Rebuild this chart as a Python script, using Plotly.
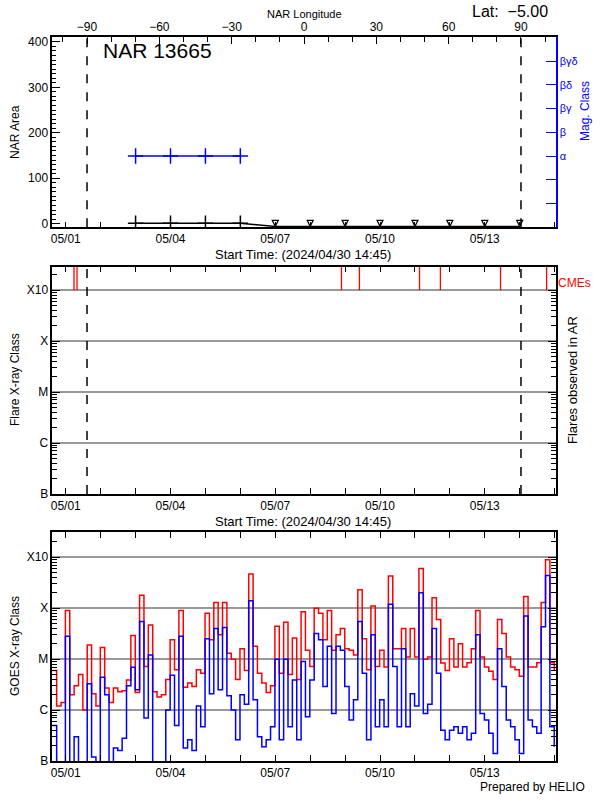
import plotly.graph_objects as go
import pandas as pd

# ---------------- data ----------------
START = "2024-04-30 14:45"
END = "2024-05-15 00:45"

date_ticks = ["2024-05-01", "2024-05-04", "2024-05-07", "2024-05-10", "2024-05-13"]
date_labels = ["05/01", "05/04", "05/07", "05/10", "05/13"]

# NAR 13665 observations
nar_times = ["2024-05-03 00:00", "2024-05-04 00:00", "2024-05-05 00:00", "2024-05-06 00:00"]
nar_area = [1, 1, 1, 1]
nar_mag = ["α", "α", "α", "α"]
# days with no NAR report (drawn with arrows)
missing_times = ["2024-05-07", "2024-05-08", "2024-05-09", "2024-05-10",
                 "2024-05-11", "2024-05-12", "2024-05-13", "2024-05-14"]
missing_area = [-6, -6, -6, -6, -6, -6, -6, -6]

mag_tick_labels = ["", "", "α", "β", "βγ", "βδ", "βγδ"]
lon_ticks = [-90, -60, -30, 0, 30, 60, 90]
limb_lons = [-90, 90]

cme_times = ["2024-05-01 05:40", "2024-05-01 07:45", "2024-05-08 21:30", "2024-05-09 09:50",
             "2024-05-11 03:10", "2024-05-11 17:30", "2024-05-13 10:50", "2024-05-14 18:30"]

class_ticks = [1e-7, 1e-6, 1e-5, 1e-4, 1e-3]
class_labels = ["B", "C", "M", "X", "X10"]

# GOES X-ray flux (W/m^2), 3-hour samples from START
goes_long = [
    6e-6, 1.2e-6, 1.4e-6, 9e-5, 2.0e-6, 3e-6, 5e-6, 1.0e-6, 1.9e-5, 2.1e-6,
    1.2e-6, 1.7e-5, 2.7e-6, 1.4e-6, 2.7e-6, 2.3e-6, 2.4e-6, 3.9e-6, 2.9e-5, 2.2e-6,
    1.8e-4, 7.2e-6, 4.7e-5, 2.3e-6, 1.8e-6, 2.0e-6, 4e-6, 2.4e-5, 6.2e-6, 9e-5,
    2.8e-6, 3.4e-6, 2.9e-6, 6.2e-6, 5.3e-6, 8e-5, 2.4e-5, 1.3e-4, 3e-5, 1.3e-4,
    1.3e-5, 1.0e-5, 4e-6, 1.6e-5, 6e-6, 4.7e-4, 1.8e-5, 5.3e-6, 3.4e-6, 2.2e-6,
    3e-6, 4.4e-5, 5.3e-6, 5.3e-5, 5e-6, 2.6e-5, 4e-6, 8.5e-5, 1.5e-5, 7.2e-6,
    1.0e-4, 8e-5, 2.4e-5, 9e-5, 1.5e-5, 3e-5, 4e-5, 1.6e-5, 1.5e-5, 1.2e-5,
    2.3e-4, 2.5e-5, 6.2e-6, 1.1e-4, 7.2e-6, 1.5e-5, 7e-6, 4.3e-4, 1.6e-5, 1.6e-5,
    4e-5, 1.1e-5, 4e-5, 1.1e-5, 6e-4, 1e-5, 1.1e-5, 1.6e-4, 6e-5, 8.4e-6,
    6e-6, 2.5e-5, 7e-6, 2e-5, 7e-6, 8.5e-6, 1.6e-5, 9e-5, 1.1e-5, 7e-6,
    5.8e-6, 4e-6, 6e-5, 3.2e-5, 1.1e-5, 7e-6, 6.2e-6, 4.6e-6, 1.7e-4, 7e-6,
    7e-6, 8.5e-6, 1.3e-4, 8.9e-4, 8.5e-6, 6e-6,
]
goes_short = [
    5e-7, 5e-8, 5e-8, 2.8e-5, 5e-8, 3e-7, 5e-8, 5e-8, 3.3e-6, 1.2e-7,
    5e-8, 4.4e-6, 2e-6, 5e-8, 1.8e-7, 1.6e-7, 2.8e-7, 3e-6, 6.9e-6, 2.5e-6,
    5.5e-5, 7e-7, 1.2e-5, 5e-8, 5e-8, 5e-8, 1e-6, 4.8e-6, 5e-7, 2.8e-5,
    1.8e-7, 2.6e-7, 1.6e-7, 1.2e-6, 4.7e-7, 2.5e-5, 2.1e-6, 4e-5, 2.5e-6, 4.2e-5,
    1.9e-6, 1.0e-6, 2.6e-7, 2e-6, 1.3e-6, 1.4e-4, 1.6e-6, 3e-7, 1.9e-7, 2.6e-7,
    4.7e-7, 1e-5, 2.6e-7, 1e-5, 4.7e-7, 3.9e-6, 2.6e-7, 9e-6, 7.4e-7, 3.9e-6,
    3.2e-5, 2.4e-5, 2.9e-6, 1.8e-5, 8.6e-7, 1.8e-5, 1.5e-5, 2.9e-6, 6.4e-7, 1.6e-6,
    5.5e-5, 5.3e-6, 2.6e-7, 3e-5, 4.7e-7, 1.6e-6, 4.7e-7, 1.2e-4, 7.2e-6, 4.7e-7,
    1.6e-5, 4.7e-7, 2.1e-6, 1.2e-6, 2e-4, 8.6e-7, 1.3e-6, 4e-5, 5.3e-6, 4e-7,
    2.6e-7, 4e-7, 4.7e-7, 3.5e-7, 4.7e-7, 2.6e-7, 3.5e-7, 3e-5, 8.6e-7, 6.4e-7,
    3.5e-7, 1.4e-7, 1.6e-5, 2.9e-6, 6.4e-7, 4.7e-7, 2.6e-7, 1.4e-7, 7e-5, 6.4e-7,
    4.7e-7, 3.5e-7, 4.3e-5, 4.4e-4, 4.7e-7, 1.9e-7,
]
goes_times = pd.date_range(START, periods=len(goes_long), freq="3h")

# ---------------- layout constants ----------------
W, H = 600, 800
XDOM = [52.3 / W, 555.7 / W]
Y1 = [1 - 227.3 / H, 1 - 37.3 / H]
Y2 = [1 - 494.0 / H, 1 - 266.7 / H]
Y3 = [1 - 761.0 / H, 1 - 532.3 / H]
LON_RANGE = [-104.4, 104.4]
AREA_RANGE = [-8, 410]
MAG_RANGE = [0, 8]
FLARE_RANGE = [-7, -2.54]
GOES_RANGE = [-7, -2.51]
FONT = "Liberation Sans, Arial, sans-serif"
RED, BLUE = "#ff0000", "#0000ff"

fig = go.Figure()

# ---- panel 1 ----
fig.add_trace(go.Scatter(x=nar_times + missing_times, y=nar_area + missing_area, mode="lines",
                         line=dict(color="black", width=1.5), xaxis="x", yaxis="y", hoverinfo="skip"))
fig.add_trace(go.Scatter(x=nar_times, y=nar_area, mode="markers", xaxis="x", yaxis="y",
                         marker=dict(symbol="cross-thin", size=11, color="black",
                                     line=dict(color="black", width=1.5))))
fig.add_trace(go.Scatter(x=missing_times, y=missing_area, mode="markers", xaxis="x", yaxis="y",
                         marker=dict(symbol="arrow-down-open", size=6, color="black",
                                     line=dict(color="black", width=1.2))))
mag_level = {lab: i for i, lab in enumerate(mag_tick_labels, start=1) if lab}
fig.add_trace(go.Scatter(x=nar_times, y=[mag_level[m] for m in nar_mag], mode="lines+markers",
                         xaxis="x", yaxis="y2", line=dict(color=BLUE, width=1.5),
                         marker=dict(symbol="cross-thin", size=11, color=BLUE,
                                     line=dict(color=BLUE, width=1.5))))
# longitude axis carrier
fig.add_trace(go.Scatter(x=limb_lons, y=[100, 100], mode="markers", xaxis="x2", yaxis="y",
                         marker=dict(opacity=0), hoverinfo="skip"))

# ---- panel 2 ----
cx, cy = [], []
for t in cme_times:
    cx += [t, t, None]
    cy += [class_ticks[-1], 10 ** FLARE_RANGE[1], None]
fig.add_trace(go.Scatter(x=cx, y=cy, mode="lines", line=dict(color=RED, width=1.3),
                         xaxis="x3", yaxis="y3", hoverinfo="skip"))
fig.add_trace(go.Scatter(x=limb_lons, y=[1e-6, 1e-6], mode="markers", xaxis="x4", yaxis="y3",
                         marker=dict(opacity=0), hoverinfo="skip"))

# ---- panel 3 ----
fig.add_trace(go.Scatter(x=goes_times, y=goes_long, mode="lines", line=dict(color=RED, width=1.5, shape="hv"),
                         xaxis="x5", yaxis="y4"))
fig.add_trace(go.Scatter(x=goes_times, y=goes_short, mode="lines", line=dict(color=BLUE, width=1.5, shape="hv"),
                         xaxis="x5", yaxis="y4"))

common = dict(showline=True, linecolor="black", linewidth=1.5, ticks="inside", tickcolor="black",
              tickwidth=1, showgrid=False, zeroline=False, automargin=False,
              tickfont=dict(size=12, color="black", family=FONT))


def date_axis(anchor, mirror):
    d = dict(domain=XDOM, anchor=anchor, type="date", range=[START, END], tickmode="array",
             tickvals=date_ticks, ticktext=date_labels, ticklen=6, mirror=mirror,
             minor=dict(tickmode="linear", tick0="2024-05-01", dtick=86400000, ticks="inside",
                        ticklen=6, tickcolor="black", showgrid=False))
    d.update(common)
    return d


minor_log = [m * 10 ** e for e in range(-7, -2) for m in range(2, 10)]


def log_axis(dom, anchor, rng):
    d = dict(domain=dom, anchor=anchor, type="log", range=rng, tickmode="array", tickvals=class_ticks,
             ticktext=class_labels, ticklen=8, mirror="ticks",
             minor=dict(tickmode="array", tickvals=minor_log, ticks="inside", ticklen=5,
                        tickcolor="black", showgrid=False))
    d.update(common)
    d.update(showgrid=True, gridcolor="#999999", gridwidth=1.5)
    return d


yax1 = dict(domain=Y1, anchor="x", range=AREA_RANGE, tickmode="linear", tick0=0, dtick=100, ticklen=8,
            minor=dict(tickmode="linear", tick0=0, dtick=10, ticks="inside", ticklen=4, tickcolor="black"))
yax1.update(common)
xax2 = dict(overlaying="x", side="top", anchor="y", range=LON_RANGE, tickmode="array", tickvals=lon_ticks,
            ticklen=7, minor=dict(tickmode="linear", tick0=0, dtick=10, ticks="inside", ticklen=5, tickcolor="black"))
xax2.update(common)
yax2 = dict(overlaying="y", side="right", anchor="x", range=MAG_RANGE, tickmode="array",
            tickvals=list(range(1, len(mag_tick_labels) + 1)), ticktext=mag_tick_labels,
            showline=True, linecolor=BLUE, linewidth=1.5, ticks="inside", tickcolor=BLUE, ticklen=10,
            showgrid=False, zeroline=False, automargin=False,
            tickfont=dict(size=11, color=BLUE, family=FONT))

fig.update_layout(
    width=W, height=H, margin=dict(l=0, r=0, t=0, b=0, autoexpand=False),
    paper_bgcolor="white", plot_bgcolor="white", showlegend=False,
    font=dict(family=FONT, color="black"),
    xaxis=date_axis("y", False),
    xaxis2=xax2,
    yaxis=yax1,
    yaxis2=yax2,
    xaxis3=date_axis("y3", "ticks"),
    xaxis4=dict(overlaying="x3", anchor="y3", range=LON_RANGE, visible=False, automargin=False),
    yaxis3=log_axis(Y2, "x3", FLARE_RANGE),
    xaxis5=date_axis("y4", "ticks"),
    yaxis4=log_axis(Y3, "x5", GOES_RANGE),
)

shapes = []
for lon in limb_lons:
    shapes.append(dict(type="line", xref="x2", yref="y domain", x0=lon, x1=lon, y0=0, y1=1,
                       line=dict(color="black", width=1.5, dash="dash")))
    shapes.append(dict(type="line", xref="x4", yref="y3 domain", x0=lon, x1=lon, y0=0, y1=1,
                       line=dict(color="black", width=1.5, dash="dash")))
fig.update_layout(shapes=shapes)


def ann(text, px, py, size=12, color="black", angle=0, xanchor="center"):
    fig.add_annotation(text=text, x=px / W, y=1 - py / H, xref="paper", yref="paper", showarrow=False,
                       font=dict(size=size, color=color, family=FONT), textangle=angle,
                       xanchor=xanchor, yanchor="middle")


ann("NAR Longitude", 304, 14, 11)
ann("Lat:\u00a0\u00a0−5.00", 510, 11, 16)
ann("NAR 13665", 157, 51, 21)
ann("NAR Area", 15, 132, 12, angle=-90)
ann("Mag. Class", 585, 111, 12, BLUE, angle=-90)
ann("Start Time: (2024/04/30 14:45)", 303, 254, 13)
ann("Start Time: (2024/04/30 14:45)", 303, 521, 13)
ann("Flare X-ray Class", 15, 380, 12, angle=-90)
ann("Flares observed in AR", 572, 380, 13, angle=-90)
ann("CMEs", 574, 283, 12, RED)
ann("GOES X-ray Class", 15, 646, 12, angle=-90)
ann("Prepared by HELIO", 532, 787, 12)

fig.write_html("out.html", config={"displayModeBar": False},
               post_script="document.body.style.margin='0';document.body.style.padding='0';"
                           "document.body.style.overflow='hidden';")
